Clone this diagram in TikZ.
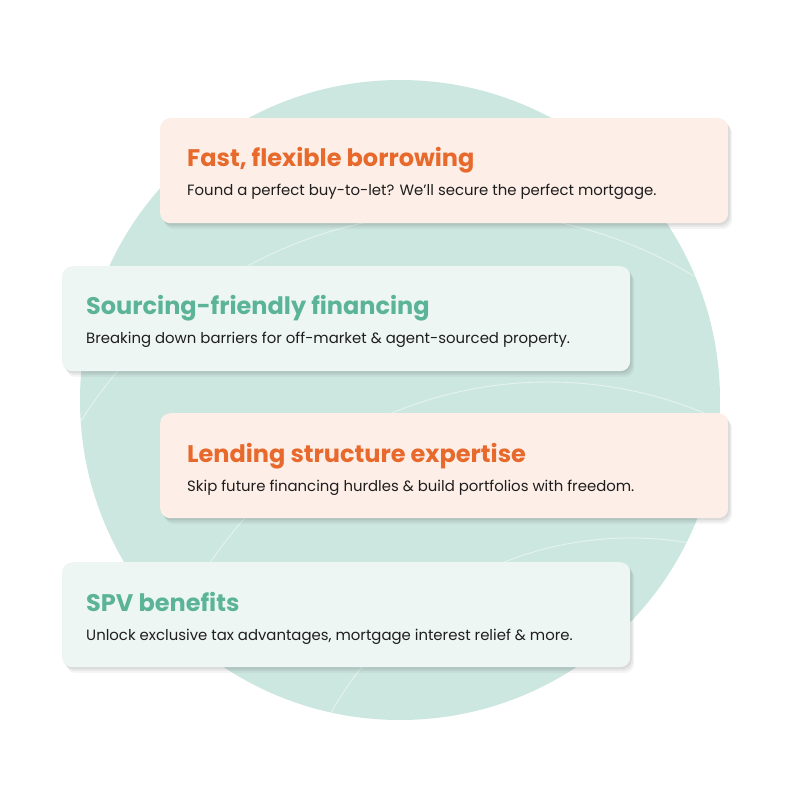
\documentclass[tikz,border=0pt]{standalone}
\usepackage{fontspec}
\setmainfont{Poppins}
\usetikzlibrary{shadows}

\definecolor{mint}{HTML}{CCE7DF}
\definecolor{peach}{HTML}{FDEEE7}
\definecolor{frost}{HTML}{EEF6F3}
\definecolor{tangerine}{HTML}{E8692C}
\definecolor{jade}{HTML}{5BB497}
\definecolor{ink}{HTML}{1E1E1E}

\begin{document}
\begin{tikzpicture}[x=1pt, y=-1pt,
    card/.style={rounded corners=10pt, minimum width=568pt, minimum height=105pt, anchor=north west,
        drop shadow={shadow xshift=4pt, shadow yshift=-6pt, opacity=0.04, fill=black},
        drop shadow={shadow xshift=3pt, shadow yshift=-4pt, opacity=0.05, fill=black},
        drop shadow={shadow xshift=1.5pt, shadow yshift=-2pt, opacity=0.06, fill=black}},
    peachcard/.style={card, fill=peach},
    frostcard/.style={card, fill=frost},
    headline/.style={anchor=base west, inner sep=0pt, font=\fontsize{24}{28}\selectfont\bfseries},
    blurb/.style={anchor=base west, inner sep=0pt, text=ink, font=\fontsize{14.9}{18}\selectfont},
    ring/.style={white, opacity=0.5, line width=0.9pt}]
        \useasboundingbox (0,0) rectangle (800,800);
        \fill[white] (0,0) rectangle (800,800);
        % backdrop circle with faint rings
        \fill[mint] (400,400) circle (320pt);
        \begin{scope}
            \clip (400,400) circle (320pt);
            \draw[ring] (462,664) circle (452pt);
            \draw[ring] (548,788) circle (406pt);
            \draw[ring] (631,883) circle (345pt);
        \end{scope}
        % cards
        \node[peachcard] (fast) at (160,118) {};
        \node[frostcard] (sourcing) at (62,266) {};
        \node[peachcard] (lending) at (160,413) {};
        \node[frostcard] (spv) at (62,562) {};
        % texts
        \node[headline, text=tangerine] (fasttitle) at (187,166) {Fast, flexible borrowing};
        \node[blurb] (fasttext) at (187,195) {Found a perfect buy-to-let? We’ll secure the perfect mortgage.};
        \node[headline, text=jade] (sourcingtitle) at (86,314) {Sourcing-friendly financing};
        \node[blurb] (sourcingtext) at (86,343) {Breaking down barriers for off-market \& agent-sourced property.};
        \node[headline, text=tangerine] (lendingtitle) at (187,462) {Lending structure expertise};
        \node[blurb] (lendingtext) at (187,491) {Skip future financing hurdles \& build portfolios with freedom.};
        \node[headline, text=jade] (spvtitle) at (86,611) {SPV benefits};
        \node[blurb] (spvtext) at (86,640) {Unlock exclusive tax advantages, mortgage interest relief \& more.};
    \end{tikzpicture}
\end{document}
